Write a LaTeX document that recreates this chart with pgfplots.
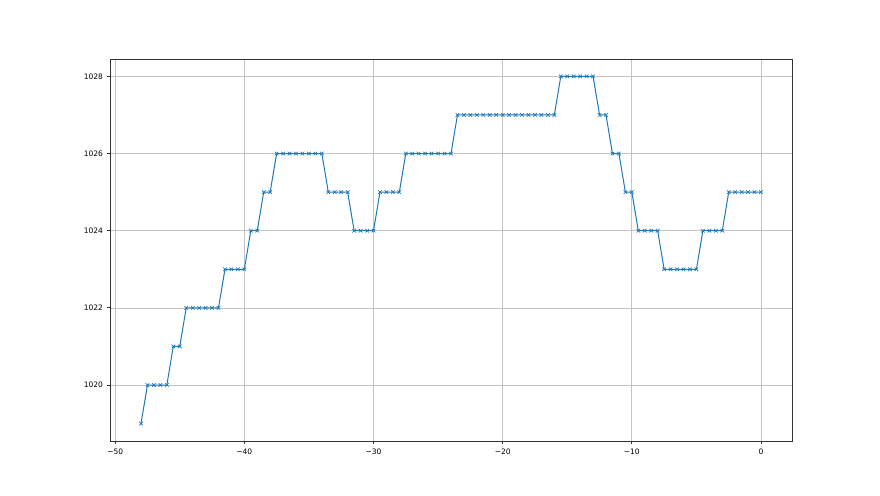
\documentclass[border=0pt]{standalone}
\usepackage{fontspec}
\setmainfont{DejaVu Sans}
\usepackage{pgfplots}
\pgfplotsset{compat=1.18}
\definecolor{mplblue}{HTML}{1F77B4}
\definecolor{gridgray}{HTML}{C4C4C4}
\begin{document}
\begin{tikzpicture}[x=1pt,y=1pt]
\path (0,0) rectangle (880,495);
\begin{axis}[
  at={(110pt,54pt)}, anchor=south west,
  width=682pt, height=382pt, scale only axis,
  xmin=-50.4, xmax=2.4, ymin=1018.55, ymax=1028.45,
  xtick={-50,-40,-30,-20,-10,0},
  xticklabels={−50,−40,−30,−20,−10,0},
  ytick={1020,1022,1024,1026,1028},
  yticklabels={1020,1022,1024,1026,1028},
  tick align=outside, major tick length=3.5pt,
  tick style={black!80, line width=0.8pt},
  axis line style={black!80, line width=0.8pt},
  xtick pos=bottom, ytick pos=left,
  grid=major, grid style={gridgray, line width=0.7pt},
  ticklabel style={font=\fontsize{7.5}{9}\selectfont},
  xticklabel style={yshift=-1pt},
  /pgf/number format/assume math mode=true,
]
\addplot[mplblue, line width=1pt, mark=x, mark size=2.5pt, mark options={line width=0.7pt}] coordinates {
(-48,1019)
(-47.5,1020)(-47,1020)(-46.5,1020)(-46,1020)
(-45.5,1021)(-45,1021)
(-44.5,1022)(-44,1022)(-43.5,1022)(-43,1022)(-42.5,1022)(-42,1022)
(-41.5,1023)(-41,1023)(-40.5,1023)(-40,1023)
(-39.5,1024)(-39,1024)
(-38.5,1025)(-38,1025)
(-37.5,1026)(-37,1026)(-36.5,1026)(-36,1026)(-35.5,1026)(-35,1026)(-34.5,1026)(-34,1026)
(-33.5,1025)(-33,1025)(-32.5,1025)(-32,1025)
(-31.5,1024)(-31,1024)(-30.5,1024)(-30,1024)
(-29.5,1025)(-29,1025)(-28.5,1025)(-28,1025)
(-27.5,1026)(-27,1026)(-26.5,1026)(-26,1026)(-25.5,1026)(-25,1026)(-24.5,1026)(-24,1026)
(-23.5,1027)(-23,1027)(-22.5,1027)(-22,1027)(-21.5,1027)(-21,1027)(-20.5,1027)(-20,1027)
(-19.5,1027)(-19,1027)(-18.5,1027)(-18,1027)(-17.5,1027)(-17,1027)(-16.5,1027)(-16,1027)
(-15.5,1028)(-15,1028)(-14.5,1028)(-14,1028)(-13.5,1028)(-13,1028)
(-12.5,1027)(-12,1027)
(-11.5,1026)(-11,1026)
(-10.5,1025)(-10,1025)
(-9.5,1024)(-9,1024)(-8.5,1024)(-8,1024)
(-7.5,1023)(-7,1023)(-6.5,1023)(-6,1023)(-5.5,1023)(-5,1023)
(-4.5,1024)(-4,1024)(-3.5,1024)(-3,1024)
(-2.5,1025)(-2,1025)(-1.5,1025)(-1,1025)(-0.5,1025)(0,1025)
};
\end{axis}
\end{tikzpicture}
\end{document}
